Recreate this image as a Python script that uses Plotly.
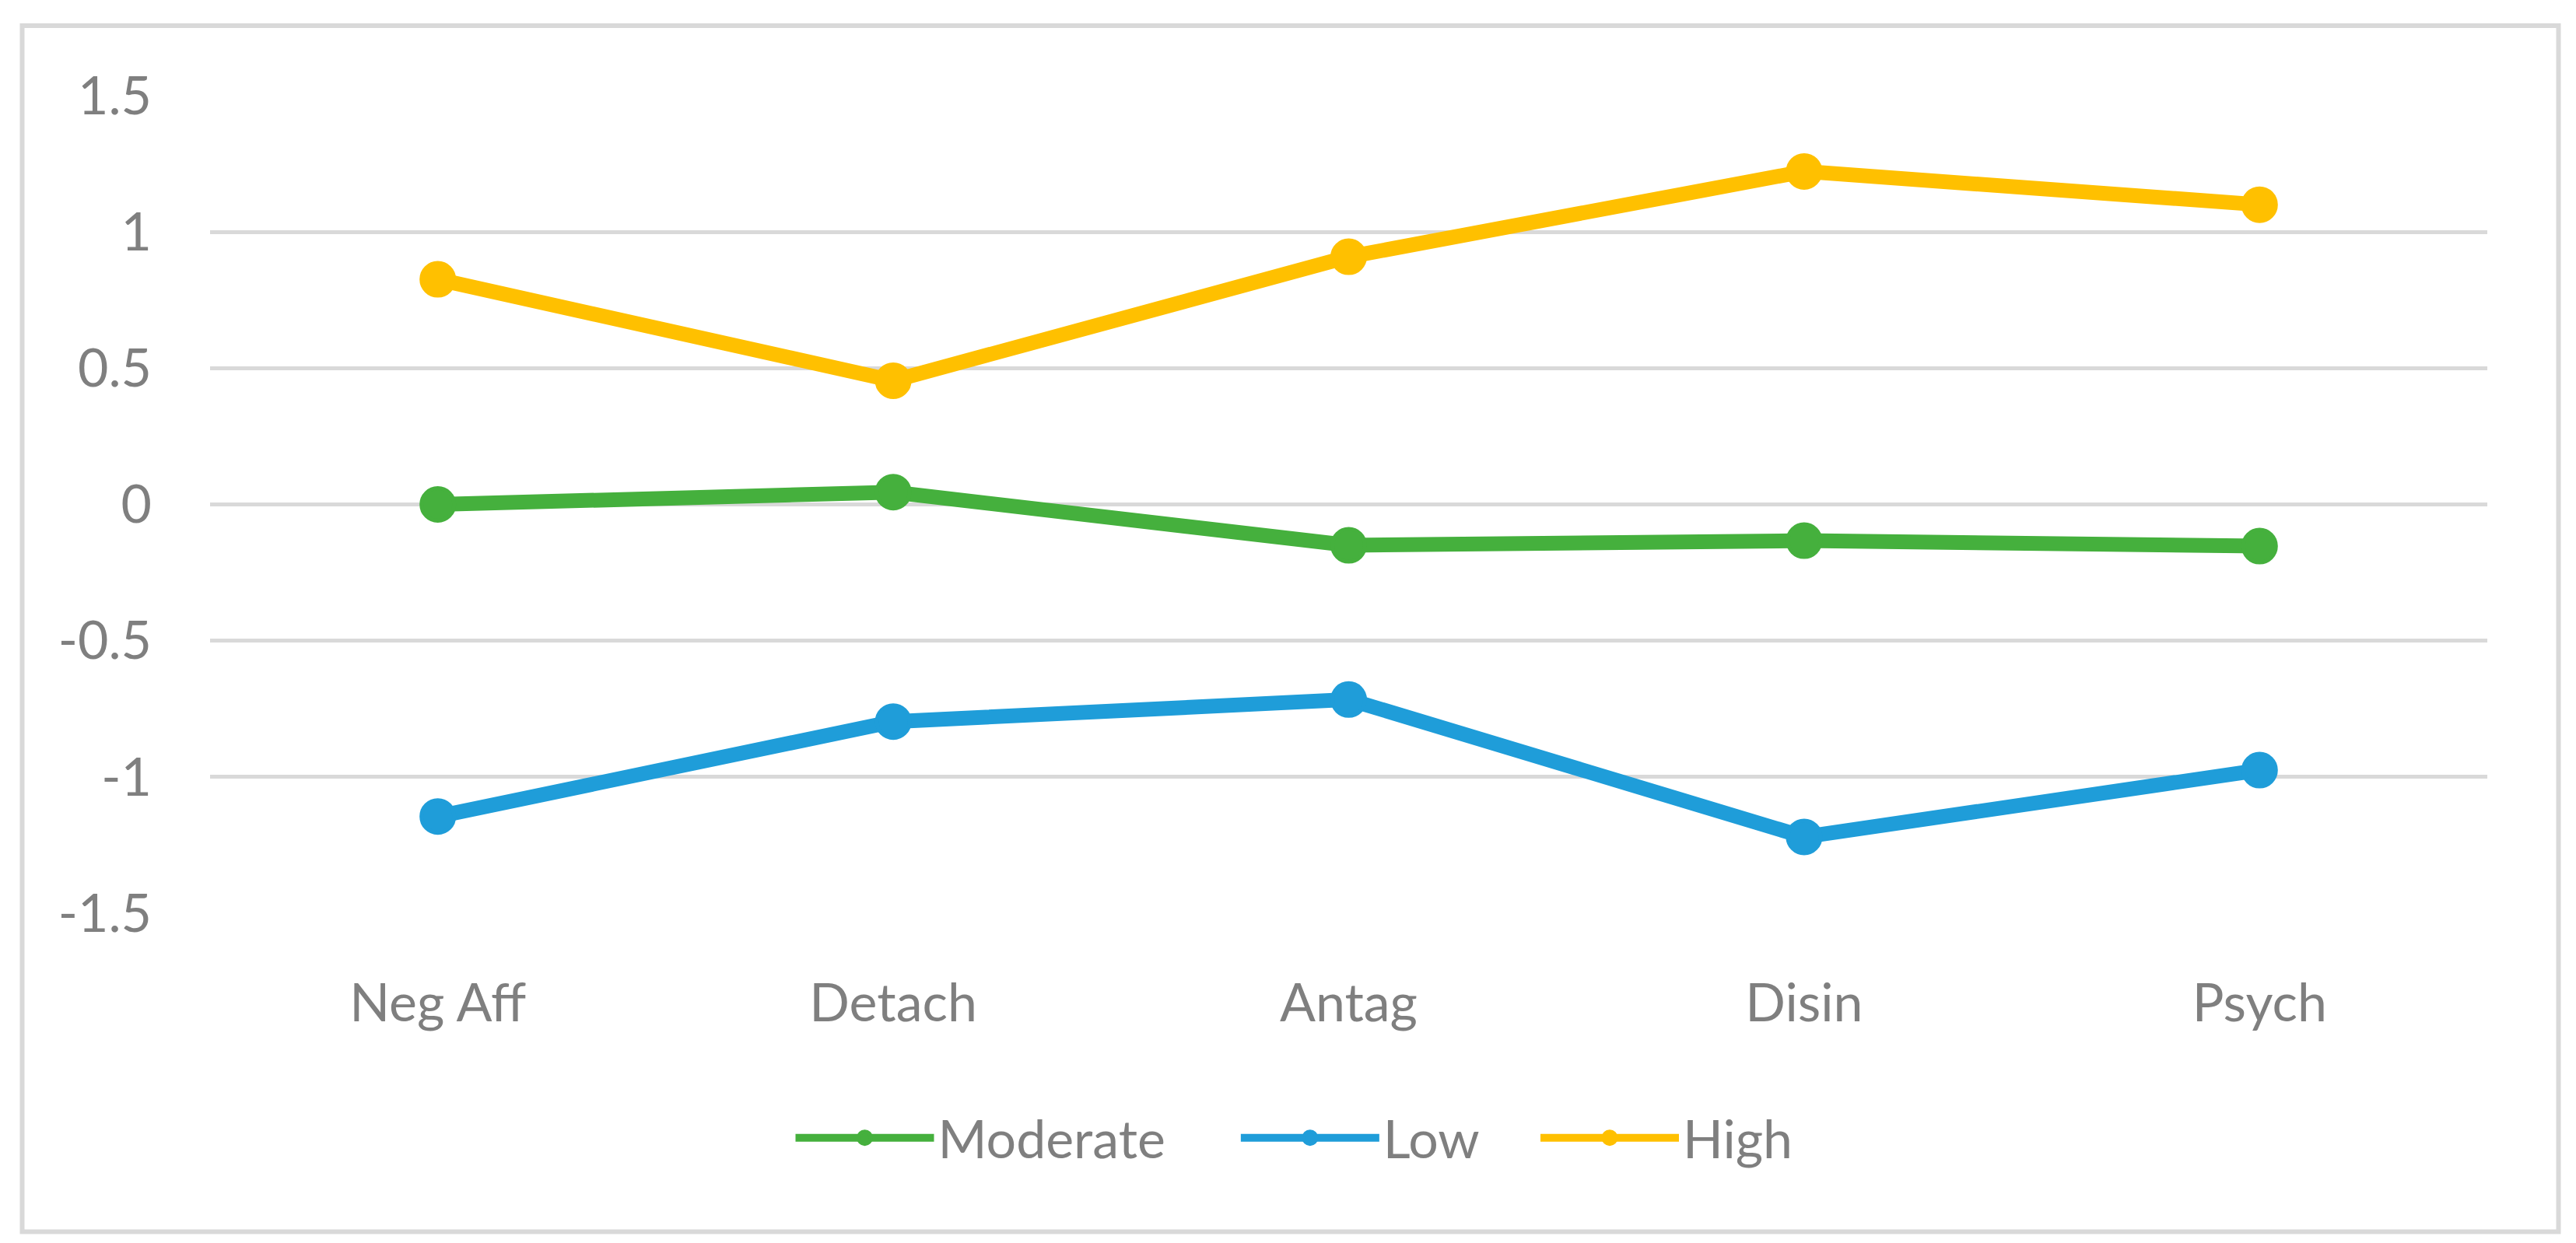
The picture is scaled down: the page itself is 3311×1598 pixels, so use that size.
import plotly.graph_objects as go

categories = ["Neg Aff", "Detach", "Antag", "Disin", "Psych"]
moderate = [0.00, 0.045, -0.15, -0.133, -0.153]
low = [-1.145, -0.797, -0.716, -1.220, -0.975]
high = [0.826, 0.454, 0.909, 1.222, 1.100]
series_names = ["Moderate", "Low", "High"]
series_colors = ["#45B03D", "#1F9DD9", "#FFC000"]
ytick_vals = [1.5, 1, 0.5, 0, -0.5, -1, -1.5]
ytick_text = ["1.5", "1", "0.5", "0", "-0.5", "-1", "-1.5"]

W, H = 3311, 1598
ML, MR, MT, MB = 262, 122, 115, 432
FONT = "Lato"
GRAY = "#7F7F7F"
PADS = ["\u00a0" * 5, "\u00a0" * 4, ""]  # spacing after legend entries

fig = go.Figure()
for name, vals, col, pad in zip(series_names, [moderate, low, high], series_colors, PADS):
    fig.add_trace(go.Scatter(
        x=categories, y=vals, name=name + pad, mode="lines+markers",
        line=dict(color=col, width=19),
        marker=dict(color=col, size=42, symbol="circle", line=dict(color=col, width=5)),
    ))

pw = W - ML - MR
ph = H - MT - MB
def px_x(p):
    return (p - ML) / pw
def px_y(p):
    return 1 - (p - MT) / ph

fig.add_shape(type="rect", xref="paper", yref="paper",
              x0=px_x(20.5), x1=px_x(3280.5), y0=px_y(25), y1=px_y(1575.5),
              line=dict(color="#D9D9D9", width=6), fillcolor="rgba(0,0,0,0)", layer="below")

fig.update_layout(
    width=W, height=H,
    margin=dict(l=ML, r=MR, t=MT, b=MB, autoexpand=False),
    paper_bgcolor="white", plot_bgcolor="white",
    font=dict(family=FONT, size=68, color=GRAY),
    showlegend=True,
    legend=dict(orientation="h", xref="container", yref="container",
                x=0.5, xanchor="center", y=1 - 1455 / H, yanchor="middle",
                font=dict(family=FONT, size=68, color=GRAY),
                itemwidth=178, traceorder="normal", bgcolor="rgba(0,0,0,0)"),
    xaxis=dict(type="category", range=[-0.5, 4.5], showgrid=False, zeroline=False,
               showline=False, ticks="", ticklabelstandoff=70,
               tickfont=dict(family=FONT, size=68, color=GRAY)),
    yaxis=dict(range=[-1.5, 1.5], tickvals=ytick_vals, ticktext=ytick_text,
               showgrid=True, gridcolor="#D9D9D9", gridwidth=5, zeroline=False,
               showline=False, ticks="", ticklabelstandoff=74,
               tickfont=dict(family=FONT, size=68, color=GRAY)),
)

fig.write_html("out.html")
